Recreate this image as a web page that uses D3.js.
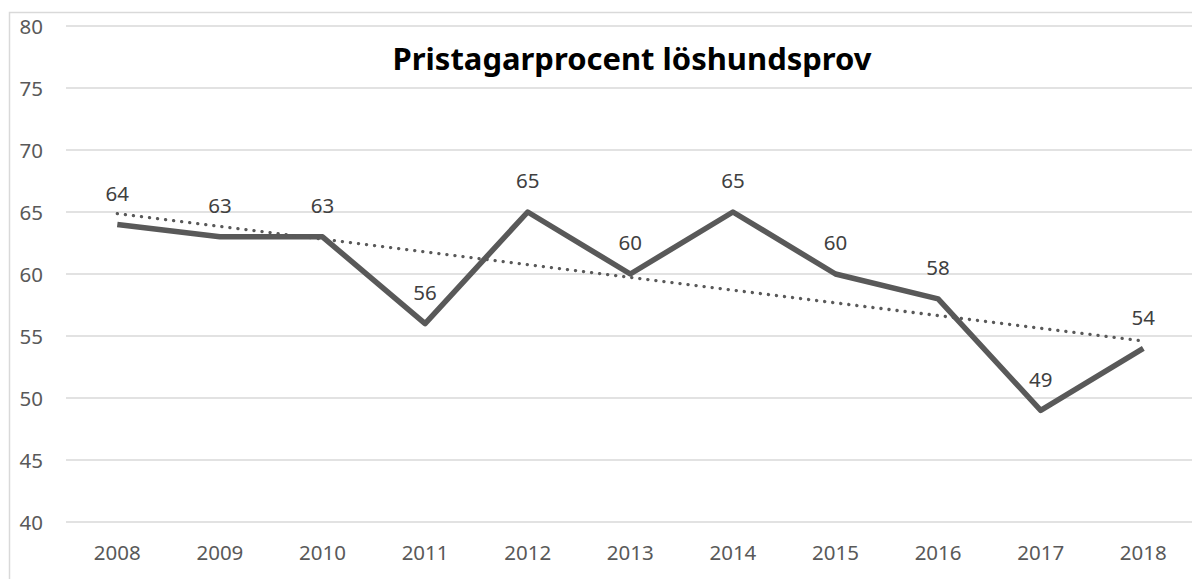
<!DOCTYPE html>
<html>
<head>
<meta charset="utf-8">
<script src="https://cdn.jsdelivr.net/npm/d3@7"></script>
<style>
  body { margin: 0; background: #fff; }
  text { font-family: "Noto Sans", "Open Sans", sans-serif; }
</style>
</head>
<body>
<div class="chart"></div>
<script>
//Data
var years = ["2008", "2009", "2010", "2011", "2012", "2013", "2014", "2015", "2016", "2017", "2018"];
var values = [64, 63, 63, 56, 65, 60, 65, 60, 58, 49, 54];
var yTicks = [40, 45, 50, 55, 60, 65, 70, 75, 80];
var title = "Pristagarprocent löshundsprov";

//Config
var width = 1192,
    height = 579,
    plot = { left : 66, right : 1194.6, top : 26, bottom : 522 };

var svg = d3.select(".chart")
  .append("svg")
  .attr("width", width)
  .attr("height", height);

//Chart border (runs off the right and bottom)
svg.append("path")
  .attr("d", "M9.5," + (height + 5) + "V12.5H" + (width + 5))
  .style("fill", "none")
  .style("stroke", "#d9d9d9")
  .style("stroke-width", "1.5px");

var x = d3.scaleBand()
  .domain(years)
  .range([plot.left, plot.right]);

var y = d3.scaleLinear()
  .domain([40, 80])
  .range([plot.bottom, plot.top]);

var cx = function (d, i) { return x(years[i]) + x.bandwidth() / 2; };

//Gridlines
svg.append("g")
  .selectAll("line")
  .data(yTicks)
  .enter()
  .append("line")
  .attr("x1", plot.left)
  .attr("x2", width)
  .attr("y1", function (d) { return y(d); })
  .attr("y2", function (d) { return y(d); })
  .style("stroke", "#d9d9d9")
  .style("stroke-width", "1.5px");

//Y axis labels
var yAxis = d3.axisLeft(y).tickValues(yTicks).tickSize(0).tickPadding(0);
var gy = svg.append("g")
  .attr("transform", "translate(43,0)")
  .call(yAxis);
gy.select(".domain").remove();
gy.selectAll("text")
  .attr("dy", "0.35em")
  .style("font-size", "20.5px")
  .style("fill", "#595959");

//X axis labels
var xAxis = d3.axisBottom(x).tickSize(0).tickPadding(0);
var gx = svg.append("g")
  .attr("transform", "translate(0," + plot.bottom + ")")
  .call(xAxis);
gx.select(".domain").remove();
gx.selectAll("text")
  .attr("y", 31)
  .attr("dy", "0.35em")
  .style("font-size", "20.5px")
  .style("fill", "#595959");

//Series line
var line = d3.line()
  .x(cx)
  .y(function (d) { return y(d); });

svg.append("path")
  .datum(values)
  .attr("d", line)
  .style("fill", "none")
  .style("stroke", "#595959")
  .style("stroke-width", "5.5px")
  .style("stroke-linejoin", "round");

//Linear trendline (least squares over the series)
var n = values.length,
    mx = d3.mean(values, function (d, i) { return i; }),
    my = d3.mean(values),
    sxy = d3.sum(values, function (d, i) { return (i - mx) * (d - my); }),
    sxx = d3.sum(values, function (d, i) { return (i - mx) * (i - mx); }),
    slope = sxy / sxx,
    icpt = my - slope * mx;
var trend = [icpt, icpt + slope * (n - 1)];

svg.append("line")
  .attr("x1", cx(null, 0))
  .attr("x2", cx(null, n - 1))
  .attr("y1", y(trend[0]))
  .attr("y2", y(trend[1]))
  .style("stroke", "#595959")
  .style("stroke-width", "3.3px")
  .style("stroke-linecap", "round")
  .style("stroke-dasharray", "0.1 8");

//Data labels
svg.append("g")
  .selectAll("text")
  .data(values)
  .enter()
  .append("text")
  .attr("x", cx)
  .attr("y", function (d) { return y(d) - 31; })
  .attr("dy", "0.35em")
  .style("text-anchor", "middle")
  .style("font-size", "20.5px")
  .style("fill", "#404040")
  .text(function (d) { return d; });

//Title, sized to the reference width
var t = svg.append("text")
  .attr("x", 632)
  .attr("y", 70)
  .style("text-anchor", "middle")
  .style("font-weight", "bold")
  .style("font-size", "28px")
  .style("fill", "#000")
  .text(title);
var tw = t.node().getComputedTextLength();
t.style("font-size", (28 * 479 / tw) + "px");
</script>
</body>
</html>
